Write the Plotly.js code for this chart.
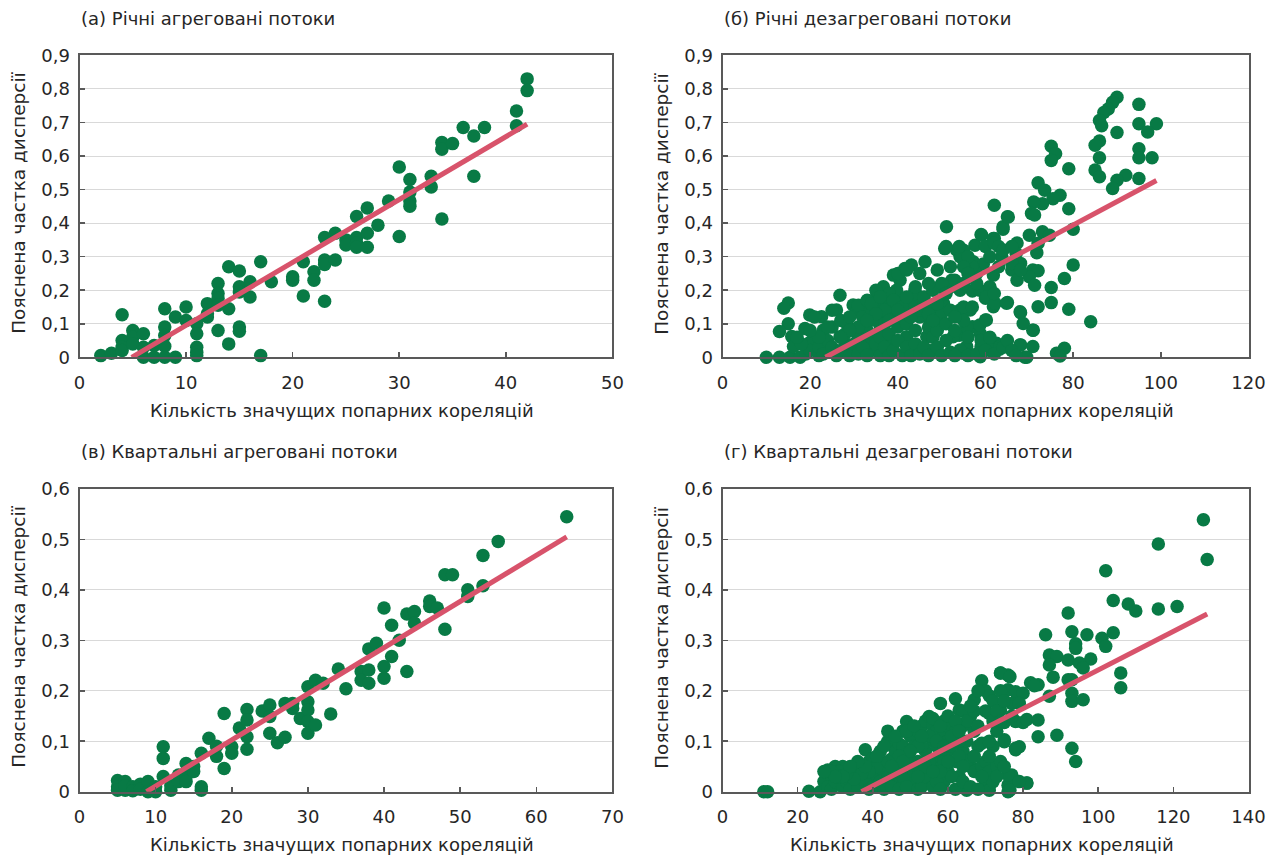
<!DOCTYPE html>
<html>
<head>
<meta charset="utf-8">
<script src="https://cdn.plot.ly/plotly-3.0.1.min.js"></script>
<style>html,body{margin:0;padding:0;background:#fff;}#chart{width:1272px;height:856px;}</style>
</head>
<body>
<div id="chart"></div>
<script>
// ---------- Panel titles and axis labels ----------
const panelTitles = [
  "(а) Річні агреговані потоки",
  "(б) Річні дезагреговані потоки",
  "(в) Квартальні агреговані потоки",
  "(г) Квартальні дезагреговані потоки"
];
const xAxisLabel = "Кількість значущих попарних кореляцій";
const yAxisLabel = "Пояснена частка дисперсії";

// ---------- (а) Annual aggregated flows ----------
const xA = [2,3,4,4,4,4,5,5,5,6,6,6,7,7,8,8,8,8,8,9,9,10,10,11,11,11,11,11,12,12,12,13,13,13,13,13,14,14,14,15,15,15,15,15,16,16,17,17,18,20,20,21,21,22,22,23,23,23,23,24,24,25,25,26,26,26,26,27,27,27,28,29,30,30,31,31,31,31,33,33,34,34,34,35,36,37,37,38,41,41,42,42];
const yA = [0.005,0.012,0.127,0.05,0.03,0.02,0.08,0.06,0.04,0.07,0.03,0,0.035,0,0.145,0.09,0.065,0.033,0,0.12,0,0.15,0.11,0.1,0.07,0.03,0.015,0.005,0.16,0.12,0.13,0.22,0.19,0.175,0.155,0.08,0.27,0.145,0.04,0.257,0.21,0.195,0.09,0.078,0.225,0.18,0.285,0.005,0.225,0.24,0.23,0.285,0.183,0.255,0.23,0.357,0.29,0.277,0.167,0.37,0.29,0.35,0.335,0.42,0.357,0.34,0.328,0.445,0.37,0.328,0.394,0.466,0.567,0.36,0.53,0.493,0.466,0.45,0.54,0.508,0.64,0.62,0.412,0.637,0.685,0.66,0.54,0.685,0.734,0.69,0.83,0.795];
const fitXA = [4.9, 42];
const fitYA = [0, 0.695];

// ---------- (б) Annual disaggregated flows ----------
const xB = [90,89,88,87,95,86,86.5,90,95,99,97,75,76,75,86,85,86,95,95,98,79,85,86,92,90,89,95,72,73.5,77,75.4,73,71,70.5,71.2,62,65,64,79,80,59,62,57.6,70,73,74.6,67.2,55,54.2,57.2,59.5,63.7,67,71.7,72,68,66,67.2,61.8,70.8,72,70,71.2,80,78,75,57,61,60,61.8,65,55.7,68,72,75,79,84,60,57,54,58.8,70.8,55.7,59,62.5,68,70.8,69,76.2,78,77,58.8,55,63.2,
10,13,15.4,17.7,15,14,15,13,15.8,16.2,18.8,19.9,22.6,23,21.5,26.8,26,29.8,30.6,28.3,26.8,24.5,32.9,35.2,36.7,39,41.6,43.1,46.2,40.5,39.7,43.9,41.2,37.4,37.4,35.9,32.9,38.2,44.3,46.6,49.6,51.1,50.7,53.4,54.5,57.2,59.1,61.8,64,65.2,52.3,54.2,50.4,54.2,56.5,49.6,58.7,61,60.2,62.2,64.8,52.6,55.7,58.7,60.2,67.9,68.6,70.9,67.9,69.4,61,63.3,54.2,48.1,43.5,46.6,42,39.7,32.9,34.4,29.8,
19,20,20,21,22,22,23,24,25,25,25,26,27,27,28,28,29,29,30,30,31,31,31,32,32,33,33,34,34,35,35,35,36,36,36,37,37,38,38,38,39,39,40,40,40,41,41,42,42,43,43,44,44,44,44,45,45,46,46,47,47,48,48,49,49,50,50,50,51,51,51,52,52,53,53,54,55,55,56,56,57,58,58,59,57,56,55,60,61,62,63,64,66,66,68,63,62,60,61,62,64,65,66,67,46,45,42,48,50,47,53,49,52,55,56,58,
33,34,36,37,39,41,42,43,45,47,48,49,51,52,53,38,40,35,31,33,29,27,24,22,20,18,17];
const yB = [0.775,0.76,0.74,0.73,0.754,0.706,0.69,0.67,0.696,0.696,0.672,0.629,0.607,0.587,0.645,0.632,0.595,0.622,0.595,0.595,0.562,0.558,0.538,0.543,0.528,0.503,0.533,0.52,0.498,0.483,0.473,0.458,0.463,0.429,0.424,0.453,0.419,0.382,0.443,0.382,0.366,0.354,0.334,0.364,0.374,0.364,0.341,0.319,0.3,0.285,0.278,0.3,0.31,0.312,0.34,0.28,0.26,0.23,0.245,0.26,0.258,0.24,0.215,0.275,0.235,0.208,0.198,0.205,0.176,0.151,0.163,0.141,0.133,0.151,0.163,0.143,0.106,0.111,0.091,0.066,0.071,0.081,0.032,0.032,0.042,0.037,0.032,0,0.012,0.027,0.004,0.002,0.012,0.024,
0,0,0,0,0.162,0.146,0.1,0.077,0.062,0.032,0.086,0.126,0.121,0.081,0.046,0.185,0.141,0.156,0.136,0.101,0.061,0.022,0.101,0.185,0.21,0.245,0.265,0.275,0.285,0.23,0.2,0.2,0.17,0.161,0.121,0.081,0.051,0.042,0.161,0.121,0.21,0.389,0.324,0.32,0.3,0.28,0.364,0.354,0.389,0.418,0.23,0.2,0.161,0.141,0.141,0.111,0.2,0.21,0.18,0.161,0.161,0.061,0.091,0.096,0.111,0.136,0.101,0.081,0.037,0,0.042,0.032,0.022,0.022,0.022,0.061,0.061,0.111,0.141,0.022,0.022,
0.01,0.045,0.02,0.12,0.005,0.03,0.01,0.05,0.14,0.09,0.03,0.005,0.02,0.11,0.04,0.07,0.005,0.12,0.08,0.04,0.155,0.06,0.01,0.12,0.03,0.005,0.08,0.13,0.06,0.2,0.04,0.11,0.005,0.15,0.06,0.1,0.03,0.19,0.07,0.005,0.14,0.02,0.25,0.09,0.05,0.005,0.13,0.1,0.03,0.15,0.005,0.19,0.21,0.08,0.04,0.12,0.01,0.03,0.16,0.09,0.005,0.14,0.06,0.03,0.08,0.005,0.13,0.17,0.05,0.1,0.33,0.015,0.21,0.08,0.005,0.33,0.15,0.11,0.06,0.005,0.15,0.01,0.25,0.05,0.27,0.3,0.27,0.33,0.3,0.34,0.33,0.32,0.33,0.28,0.26,0.27,0.19,0.02,0.06,0.01,0.03,0.05,0.02,0.005,0.18,0.25,0.26,0.2,0.22,0.22,0.23,0.26,0.27,0.22,0.25,0.22,
0.17,0.16,0.18,0.14,0.17,0.15,0.18,0.12,0.14,0.13,0.11,0.16,0.19,0.14,0.12,0.11,0.14,0.13,0.09,0.11,0.08,0.06,0.09,0.06,0.08,0.04,0.06];
const fitXB = [23.5, 99];
const fitYB = [0, 0.527];

// ---------- (в) Quarterly aggregated flows ----------
const xC = [5,5,5,6,6,6,7,7,8,8,9,9,10,10,11,11,11,12,12,13,13,14,14,14,15,15,16,16,16,17,18,18,19,19,20,20,21,22,22,22,22,24,25,25,25,26,27,27,28,28,29,30,30,30,30,30,31,31,32,33,34,35,37,37,38,38,38,39,40,40,40,41,41,42,43,43,44,44,46,46,47,48,48,49,51,51,53,53,55,64];
const yC = [0.022,0.01,0.003,0.02,0.003,0.012,0.01,0.002,0.015,0.005,0.02,0,0,0.01,0.089,0.066,0.03,0.003,0.012,0.033,0.02,0.056,0.03,0.02,0.05,0.04,0.076,0.003,0.01,0.106,0.07,0.09,0.155,0.046,0.089,0.076,0.126,0.163,0.142,0.109,0.084,0.16,0.172,0.149,0.116,0.097,0.108,0.175,0.165,0.175,0.145,0.208,0.178,0.162,0.139,0.116,0.221,0.132,0.215,0.154,0.243,0.204,0.238,0.221,0.283,0.241,0.215,0.294,0.364,0.248,0.225,0.33,0.268,0.3,0.352,0.238,0.357,0.334,0.378,0.367,0.364,0.43,0.322,0.43,0.4,0.387,0.468,0.408,0.496,0.545];
const fitXC = [8.8, 64];
const fitYC = [0, 0.505];

// ---------- (г) Quarterly disaggregated flows ----------
const xD = [128,116,129,102,104,108,110,116,121,92,93,86,97,94,94,101,102,104,87,89,87,98,92,95,96,88,92,93,106,106,82,84,87,93,93,96,76,74,76,78,80,77,79,74,75,78,80,81,84,75,84,89,78,79,93,94,77,81,76,76,83,
11,12,23,26,27,28,29,30,31,32,33,34,35,36,37,38,39,40,40,41,42,43,44,45,45,46,46,47,47,48,49,49,50,50,51,51,52,52,53,53,54,54,55,55,56,56,57,57,58,58,59,59,60,60,61,62,62,63,63,64,64,65,65,66,66,67,67,68,68,69,69,70,70,71,71,72,72,74,76.5,75,78,81,76,76.5,
28,29,30,31,32,33,34,35,36,37,38,39,40,41,42,43,44,45,46,47,48,48,49,50,51,52,53,54,55,56,57,58,59,60,61,62,63,64,65,66,67,68,69,70,71,72,73,55,53,57,61,59,60,62,64,65,67,68,70,71,72,73,66,68,73,74,75,77,74,63,58,54,52,50,47,44,42,39,37,35,33,31,29,72,74,71,79,
44,46,49,51,53,56,58,60,62,57,59,61,63,48,45,43,41,38,36,34,32,30,27,52,56,60,64,67,69,71,73,75];
const yD = [0.539,0.491,0.46,0.438,0.379,0.372,0.358,0.362,0.367,0.354,0.317,0.311,0.311,0.293,0.284,0.304,0.288,0.315,0.271,0.268,0.251,0.263,0.261,0.255,0.245,0.227,0.222,0.222,0.235,0.206,0.216,0.212,0.189,0.195,0.179,0.182,0.231,0.235,0.202,0.198,0.195,0.175,0.175,0.162,0.137,0.139,0.137,0.143,0.142,0.103,0.109,0.112,0.086,0.089,0.086,0.06,0.033,0.017,0.013,0,0.21,
0,0,0.001,0,0.02,0.043,0.03,0.05,0.02,0.05,0.046,0.03,0.01,0.04,0.02,0.083,0.06,0.066,0.03,0.01,0.055,0.04,0.1,0.099,0.065,0.08,0.02,0.095,0.04,0.12,0.139,0.07,0.11,0.03,0.09,0.01,0.12,0.06,0.13,0.04,0.14,0.08,0.149,0.02,0.13,0.1,0.12,0.05,0.175,0.07,0.11,0.02,0.1,0.04,0.12,0.184,0.06,0.162,0.03,0.13,0.08,0.1,0.003,0.15,0.05,0.182,0.12,0.043,0.09,0.22,0.096,0.16,0.02,0.155,0.003,0.05,0.14,0.235,0.228,0.099,0.083,0.017,0.033,0.003,
0.01,0.005,0.02,0.04,0.01,0.02,0.005,0.04,0.01,0.05,0.02,0.005,0.01,0.05,0.02,0.005,0.03,0.01,0.05,0.005,0.03,0.09,0.01,0.06,0.04,0.005,0.01,0.03,0.06,0.01,0.02,0.005,0.06,0.08,0.03,0.005,0.1,0.02,0.06,0.01,0.04,0.005,0.05,0.06,0.04,0.02,0.05,0.11,0.09,0.09,0.09,0.14,0.13,0.12,0.16,0.14,0.16,0.13,0.2,0.19,0.18,0.12,0.17,0.2,0.16,0.2,0.18,0.15,0.14,0.07,0.04,0.05,0.09,0.08,0.07,0.06,0.08,0.04,0.035,0.025,0.035,0.03,0.04,0.09,0.06,0.1,0.02,
0.12,0.11,0.12,0.13,0.11,0.145,0.13,0.15,0.14,0.1,0.09,0.11,0.12,0.06,0.05,0.09,0.07,0.05,0.06,0.05,0.03,0.03,0.04,0.03,0.04,0.06,0.05,0.07,0.03,0.07,0.03,0.05];
const fitXD = [37, 129];
const fitYD = [0, 0.352];

// ---------- styling ----------
const GREEN = '#087a45';
const RED = '#d8536b';
const FONT = '"DejaVu Sans", "Open Sans", sans-serif';
const TXT = '#262626';
const W = 1272, H = 856;

function pts(x, y, xa, ya) {
  return {x: x, y: y, xaxis: xa, yaxis: ya, type: 'scatter', mode: 'markers',
    marker: {color: GREEN, size: 13.5, line: {width: 0}}, cliponaxis: false, hoverinfo: 'skip', showlegend: false};
}
function fit(x, y, xa, ya) {
  return {x: x, y: y, xaxis: xa, yaxis: ya, type: 'scatter', mode: 'lines',
    line: {color: RED, width: 5}, cliponaxis: false, hoverinfo: 'skip', showlegend: false};
}

const data = [
  pts(xA, yA, 'x', 'y'), fit(fitXA, fitYA, 'x', 'y'),
  pts(xB, yB, 'x2', 'y2'), fit(fitXB, fitYB, 'x2', 'y2'),
  pts(xC, yC, 'x3', 'y3'), fit(fitXC, fitYC, 'x3', 'y3'),
  pts(xD, yD, 'x4', 'y4'), fit(fitXD, fitYD, 'x4', 'y4')
];

// pixel boxes of the four plot areas
const boxes = [
  {l: 79.5, r: 612.4, t: 55.4, b: 357.3},
  {l: 722.5, r: 1248.5, t: 55.4, b: 357.3},
  {l: 79.5, r: 612.4, t: 488.9, b: 791.7},
  {l: 722.5, r: 1248.5, t: 488.9, b: 791.7}
];
const xRanges = [[0, 50], [0, 120], [0, 70], [0, 140]];
const xDticks = [10, 20, 10, 20];
const yRanges = [[0, 0.9], [0, 0.9], [0, 0.6], [0, 0.6]];

const tickFont = {family: FONT, size: 18, color: TXT};
const layout = {
  width: W, height: H,
  margin: {l: 0, r: 0, t: 0, b: 0},
  paper_bgcolor: '#ffffff', plot_bgcolor: '#ffffff',
  separators: ', ',
  showlegend: false,
  font: {family: FONT, color: TXT},
  annotations: []
};

boxes.forEach((b, i) => {
  const sx = i === 0 ? '' : String(i + 1);
  layout['xaxis' + sx] = {
    domain: [b.l / W, b.r / W], anchor: 'y' + sx,
    range: xRanges[i], dtick: xDticks[i], tick0: 0,
    showgrid: false, zeroline: false,
    showline: true, mirror: true, linecolor: '#595959', linewidth: 2,
    ticks: 'inside', ticklen: 5, tickwidth: 1.5, tickcolor: '#595959',
    ticklabelstandoff: 8,
    tickfont: tickFont, fixedrange: true
  };
  layout['yaxis' + sx] = {
    domain: [1 - b.b / H, 1 - b.t / H], anchor: 'x' + sx,
    range: yRanges[i], dtick: 0.1, tick0: 0,
    showgrid: true, gridcolor: '#d9d9d9', gridwidth: 1, zeroline: false,
    showline: true, mirror: true, linecolor: '#595959', linewidth: 2,
    ticks: 'inside', ticklen: 5, tickwidth: 1.5, tickcolor: '#595959',
    ticklabelstandoff: 4,
    tickfont: tickFont, fixedrange: true
  };
  // panel title
  layout.annotations.push({
    text: panelTitles[i], xref: 'paper', yref: 'paper',
    x: (b.l - 1) / W, y: 1 - (b.t - 37) / H, xanchor: 'left', yanchor: 'middle',
    showarrow: false, font: {family: FONT, size: 18, color: TXT}
  });
  // x-axis title
  layout.annotations.push({
    text: xAxisLabel, xref: 'paper', yref: 'paper',
    x: ((b.l + b.r) / 2 - 4) / W, y: 1 - (b.b + 53) / H, xanchor: 'center', yanchor: 'middle',
    showarrow: false, font: {family: FONT, size: 18, color: TXT}
  });
  // y-axis title
  layout.annotations.push({
    text: yAxisLabel, xref: 'paper', yref: 'paper',
    x: (b.l - 61) / W, y: 1 - ((b.t + b.b) / 2 - 3) / H, xanchor: 'center', yanchor: 'middle',
    textangle: -90,
    showarrow: false, font: {family: FONT, size: 18.5, color: TXT}
  });
});

Plotly.newPlot('chart', data, layout, {displayModeBar: false, staticPlot: true});
</script>
</body>
</html>
